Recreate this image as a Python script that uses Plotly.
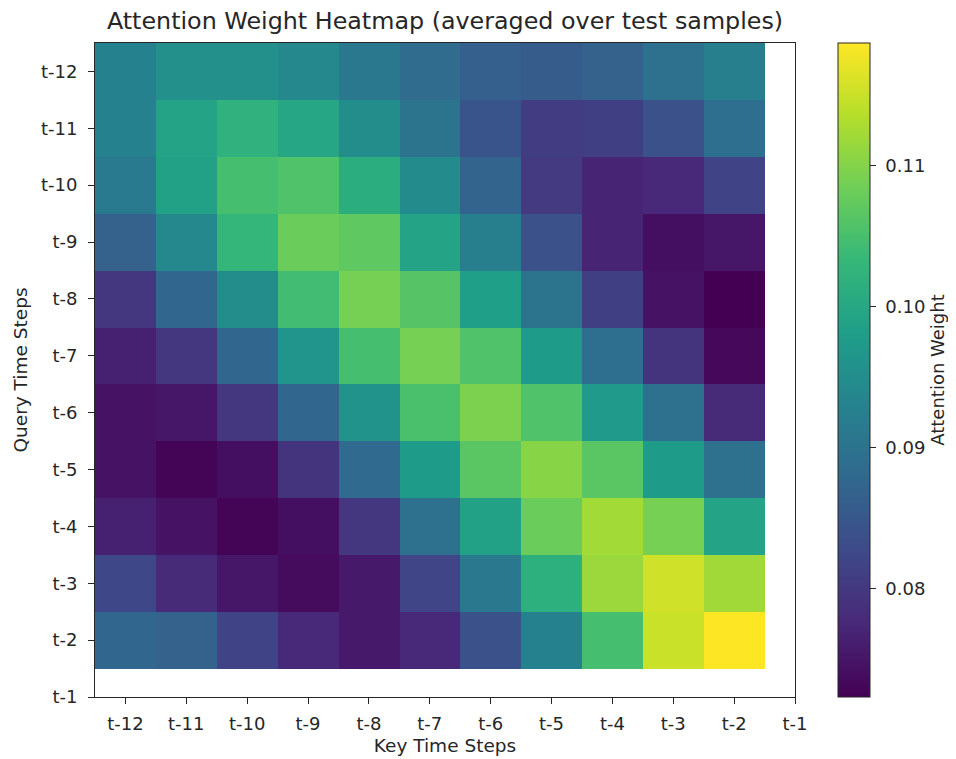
import plotly.graph_objects as go

key_labels = ["t-12", "t-11", "t-10", "t-9", "t-8", "t-7", "t-6", "t-5", "t-4", "t-3", "t-2", "t-1"]
query_labels = ["t-12", "t-11", "t-10", "t-9", "t-8", "t-7", "t-6", "t-5", "t-4", "t-3", "t-2", "t-1"]

row_t12 = [0.0927, 0.0955, 0.0955, 0.0941, 0.0909, 0.0885, 0.0862, 0.0858, 0.0867, 0.0895, 0.0923]
row_t11 = [0.0927, 0.0992, 0.1020, 0.0997, 0.0950, 0.0899, 0.0844, 0.0807, 0.0811, 0.0839, 0.0890]
row_t10 = [0.0913, 0.0987, 0.1048, 0.1057, 0.1011, 0.0946, 0.0871, 0.0802, 0.0769, 0.0774, 0.0816]
row_t9 = [0.0867, 0.0941, 0.1029, 0.1080, 0.1071, 0.0992, 0.0923, 0.0839, 0.0769, 0.0742, 0.0751]
row_t8 = [0.0797, 0.0876, 0.0950, 0.1043, 0.1090, 0.1062, 0.0983, 0.0899, 0.0811, 0.0746, 0.0723]
row_t7 = [0.0765, 0.0797, 0.0876, 0.0964, 0.1048, 0.1090, 0.1057, 0.0978, 0.0890, 0.0793, 0.0732]
row_t6 = [0.0746, 0.0751, 0.0797, 0.0876, 0.0960, 0.1052, 0.1094, 0.1057, 0.0974, 0.0895, 0.0779]
row_t5 = [0.0746, 0.0728, 0.0742, 0.0793, 0.0881, 0.0978, 0.1066, 0.1103, 0.1066, 0.0978, 0.0895]
row_t4 = [0.0765, 0.0746, 0.0728, 0.0742, 0.0797, 0.0895, 0.0987, 0.1080, 0.1122, 0.1090, 0.0992]
row_t3 = [0.0825, 0.0779, 0.0751, 0.0737, 0.0755, 0.0820, 0.0909, 0.1015, 0.1117, 0.1155, 0.1120]
row_t2 = [0.0876, 0.0867, 0.0816, 0.0774, 0.0755, 0.0774, 0.0839, 0.0927, 0.1048, 0.1150, 0.1187]

z = [row_t12, row_t11, row_t10, row_t9, row_t8, row_t7, row_t6, row_t5, row_t4, row_t3, row_t2]
cbar_ticks = [0.08, 0.09, 0.10, 0.11]

FONT = "DejaVu Sans"
INK = "#262626"

# page body has an 8px default margin; size the figure so the page fits the window
W, H = 948, 751
ML, MT, PW, PH = 87, 35, 700, 654

fig = go.Figure(
    go.Heatmap(
        z=z,
        x=list(range(len(z[0]))),
        y=list(range(len(z))),
        colorscale="Viridis",
        zmin=min(min(r) for r in z),
        zmax=max(max(r) for r in z),
        colorbar=dict(
            title=dict(text="Attention Weight", side="right", font=dict(family=FONT, size=18, color=INK)),
            tickvals=cbar_ticks,
            ticktext=["\u00a0" + f"{v:.2f}" for v in cbar_ticks],
            ticks="outside",
            ticklen=6,
            tickcolor=INK,
            tickfont=dict(family=FONT, size=18, color=INK),
            thickness=32,
            len=1.0,
            lenmode="fraction",
            x=1.061,
            xanchor="left",
            y=0.5,
            yanchor="middle",
            outlinewidth=1,
            outlinecolor=INK,
            xpad=0,
            ypad=0,
        ),
    )
)

fig.update_layout(
    width=W,
    height=H,
    margin=dict(l=ML, r=W - ML - PW, t=MT, b=H - MT - PH, autoexpand=False),
    paper_bgcolor="white",
    plot_bgcolor="white",
    title=dict(
        text="Attention Weight Heatmap (averaged over test samples)",
        x=(ML + PW / 2) / W,
        xanchor="center",
        y=1 - 13 / H,
        yanchor="middle",
        font=dict(family=FONT, size=23.8, color=INK),
    ),
    font=dict(family=FONT, color=INK),
)

fig.update_xaxes(
    range=[-0.5, 11],
    tickvals=list(range(len(key_labels))),
    ticktext=key_labels,
    ticks="outside",
    ticklen=6,
    tickcolor=INK,
    ticklabelstandoff=4,
    tickfont=dict(family=FONT, size=18, color=INK),
    showline=True,
    linecolor=INK,
    linewidth=1,
    mirror=True,
    showgrid=False,
    zeroline=False,
    automargin=False,
    title=dict(text="Key Time Steps", font=dict(family=FONT, size=18.5, color=INK), standoff=6),
)
fig.update_yaxes(
    range=[11, -0.5],
    tickvals=list(range(len(query_labels))),
    ticktext=query_labels,
    ticks="outside",
    ticklen=6,
    tickcolor=INK,
    ticklabelstandoff=7,
    tickfont=dict(family=FONT, size=18, color=INK),
    showline=True,
    linecolor=INK,
    linewidth=1,
    mirror=True,
    showgrid=False,
    zeroline=False,
    automargin=False,
    title=dict(text="Query Time Steps", font=dict(family=FONT, size=18.5, color=INK), standoff=8),
)

fig.write_html("out.html")
